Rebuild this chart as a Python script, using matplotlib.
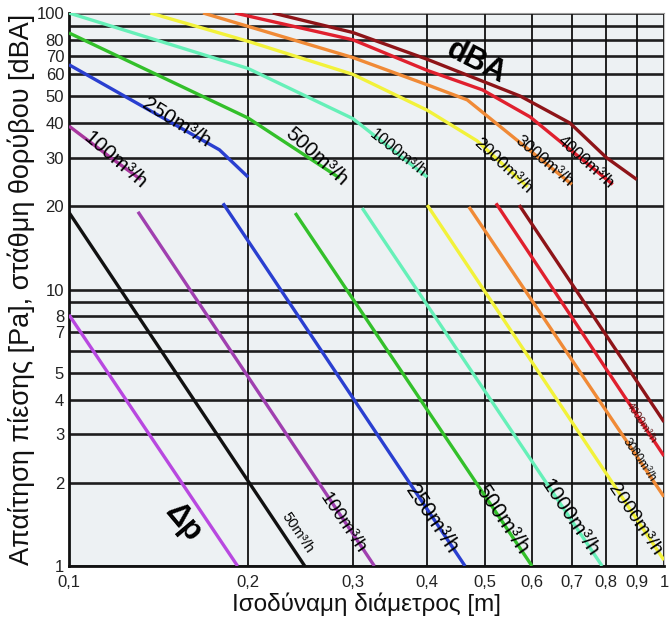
import matplotlib
matplotlib.use("Agg")
import matplotlib.pyplot as plt
from matplotlib import font_manager

# ---------------- data ----------------
# noise level curves (dBA) : diameter [m] vs level [dBA]
dba_100_d = [0.1, 0.117, 0.132]
dba_100_v = [39, 30.2, 25]
dba_250_d = [0.1, 0.179, 0.2]
dba_250_v = [65, 32, 25.5]
dba_500_d = [0.1, 0.2, 0.285]
dba_500_v = [84.7, 41.7, 25.3]
dba_1000_d = [0.1, 0.2, 0.3, 0.4]
dba_1000_v = [100, 63, 41.5, 25.5]
dba_2000_d = [0.137, 0.2, 0.3, 0.4, 0.485, 0.59]
dba_2000_v = [100, 79, 60, 44.5, 34.5, 23.5]
dba_3000_d = [0.168, 0.3, 0.4, 0.467, 0.566, 0.7]
dba_3000_v = [100, 69, 55, 48.5, 34.7, 24]
dba_4000_d = [0.19, 0.3, 0.4, 0.4955, 0.5955, 0.82]
dba_4000_v = [100, 80, 62, 52.7, 42.1, 24]
dba_5000_d = [0.22, 0.3, 0.4, 0.574, 0.695, 0.8, 0.9]
dba_5000_v = [100, 85, 68, 50, 40, 30, 25]

# pressure drop lines (Δp) : straight lines, start / end points
dp_flows = [25, 50, 100, 250, 500, 1000, 2000, 3000, 4000, 5000]
dp_d_start = [0.1, 0.1, 0.1306, 0.1815, 0.24, 0.311, 0.4, 0.47, 0.522, 0.571]
dp_p_start = [8.1, 19.0, 19.1, 20.5, 18.9, 19.7, 20.2, 19.9, 20.5, 20.2]
dp_d_end = [0.192, 0.249, 0.326, 0.463, 0.600, 0.787, 1.0, 1.0, 1.0, 1.0]
dp_p_end = [1.0, 1.0, 1.0, 1.0, 1.0, 1.0, 1.05, 1.78, 2.5, 3.32]

x_ticks = [0.1, 0.2, 0.3, 0.4, 0.5, 0.6, 0.7, 0.8, 0.9, 1.0]
x_tick_labels = ["0,1", "0,2", "0,3", "0,4", "0,5", "0,6", "0,7", "0,8", "0,9", "1"]
y_grid = [1, 2, 3, 4, 5, 6, 7, 8, 9, 10, 20, 30, 40, 50, 60, 70, 80, 90, 100]
y_ticks = [1, 2, 3, 4, 5, 7, 8, 10, 20, 30, 40, 50, 60, 70, 80, 100]
y_tick_labels = ["1", "2", "3", "4", "5", "7", "8", "10", "20", "30", "40", "50", "60", "70", "80", "100"]

# ---------------- style ----------------
col = {
    25: "#b848e0",
    50: "#111111",
    100: "#a8389e",
    250: "#2a3fd0",
    500: "#33c02a",
    1000: "#66f0b8",
    2000: "#f2f23a",
    3000: "#f08a36",
    4000: "#e0202e",
    5000: "#8e1418",
}
dp_colors = [col[25], col[50], "#a040b0", col[250], col[500], col[1000],
             col[2000], col[3000], col[4000], col[5000]]

def has_font(name):
    try:
        font_manager.findfont(font_manager.FontProperties(family=name), fallback_to_default=False)
        return True
    except Exception:
        return False

narrow = [f for f in ["Liberation Sans Narrow"] if has_font(f)]
tick_font = narrow + ["Liberation Sans", "DejaVu Sans"]
lab_font = ["Liberation Sans", "DejaVu Sans"]

fig = plt.figure(figsize=(6.7, 6.22), dpi=100)
ax = fig.add_axes([69 / 670, 1 - 566 / 622, (664 - 69) / 670, (566 - 13) / 622])
ax.set_facecolor("#edf1f3")
ax.set_xscale("log")
ax.set_yscale("log")
ax.set_xlim(0.1, 1.0)
ax.set_ylim(1, 100)

# grid
for yv in y_grid:
    ax.axhline(yv, color="#1e1e1e", lw=1.9, zorder=1)
for xv in x_ticks:
    ax.axvline(xv, color="#111111", lw=1.3, zorder=1)

LW = 2.4
series = [
    (dba_100_d, dba_100_v, col[100]),
    (dba_250_d, dba_250_v, col[250]),
    (dba_500_d, dba_500_v, col[500]),
    (dba_1000_d, dba_1000_v, col[1000]),
    (dba_2000_d, dba_2000_v, col[2000]),
    (dba_3000_d, dba_3000_v, col[3000]),
    (dba_4000_d, dba_4000_v, col[4000]),
    (dba_5000_d, dba_5000_v, col[5000]),
]
for d, v, c in series:
    ax.plot(d, v, color=c, lw=LW, zorder=3, solid_capstyle="butt")

for i in range(len(dp_flows)):
    ax.plot([dp_d_start[i], dp_d_end[i]], [dp_p_start[i], dp_p_end[i]],
            color=dp_colors[i], lw=LW, zorder=3, solid_capstyle="butt")

# ticks
ax.set_xticks(x_ticks)
ax.set_xticklabels(x_tick_labels)
ax.set_yticks(y_ticks)
ax.set_yticklabels(y_tick_labels)
ax.minorticks_off()
ax.tick_params(length=0, pad=3.5, labelsize=12)
for lab in ax.get_xticklabels() + ax.get_yticklabels():
    lab.set_family(tick_font)
    lab.set_color("#222222")
ax.tick_params(axis="x", pad=6.5)

for s in ["left", "bottom"]:
    ax.spines[s].set_color("#111111")
    ax.spines[s].set_linewidth(2.0)
ax.spines["top"].set_color("#9a9a9a")
ax.spines["right"].set_color("#c0c0c0")

ax.set_xlabel("Ισοδύναμη διάμετρος [m]", fontsize=17.5, family=lab_font, color="#111111")
ax.set_ylabel("Απαίτηση πίεσης [Pa], στάθμη θορύβου [dBA]", fontsize=19.5, family=lab_font,
              color="#111111")
ax.xaxis.set_label_coords(0.5, (566 - 593) / 553)
ax.yaxis.set_label_coords((35 - 69) / 595, 0.5)

def lbl(x, y, s, rot, size, color="#000000", weight="normal"):
    ax.text(x, y, s, rotation=rot, fontsize=size, ha="center", va="center",
            rotation_mode="anchor", family=lab_font, color=color, weight=weight, zorder=5)

# top labels (dBA)
lbl(0.1195, 29.4, "100m³/h", -41, 15)
lbl(0.1513, 40.0, "250m³/h", -32, 15)
lbl(0.2602, 30.2, "500m³/h", -42, 15)
lbl(0.357, 31.0, "1000m³/h", -38, 11.5)
lbl(0.536, 28.0, "2000m³/h", -43, 12.5)
lbl(0.628, 29.2, "3000m³/h", -40, 12)
lbl(0.738, 28.9, "4000m³/h", -42, 12)
lbl(0.483, 66.6, "dBA", -27, 22, weight="bold")

# bottom labels (Δp)
lbl(0.2418, 1.316, "50m³/h", -56, 10.5)
lbl(0.1554, 1.43, "Δp", -50, 22, weight="bold")
lbl(0.2886, 1.43, "100m³/h", -56, 13.5)
lbl(0.4073, 1.467, "250m³/h", -56, 15.5)
lbl(0.5345, 1.467, "500m³/h", -56, 15.5)
lbl(0.6948, 1.49, "1000m³/h", -56, 15)
lbl(0.8935, 1.467, "2000m³/h", -56, 14)
lbl(0.9085, 2.42, "3000m³/h", -56, 8.5)
lbl(0.915, 3.29, "4000m³/h", -56, 8, color="#5a0a0a")

fig.savefig("out.png", dpi=100)
